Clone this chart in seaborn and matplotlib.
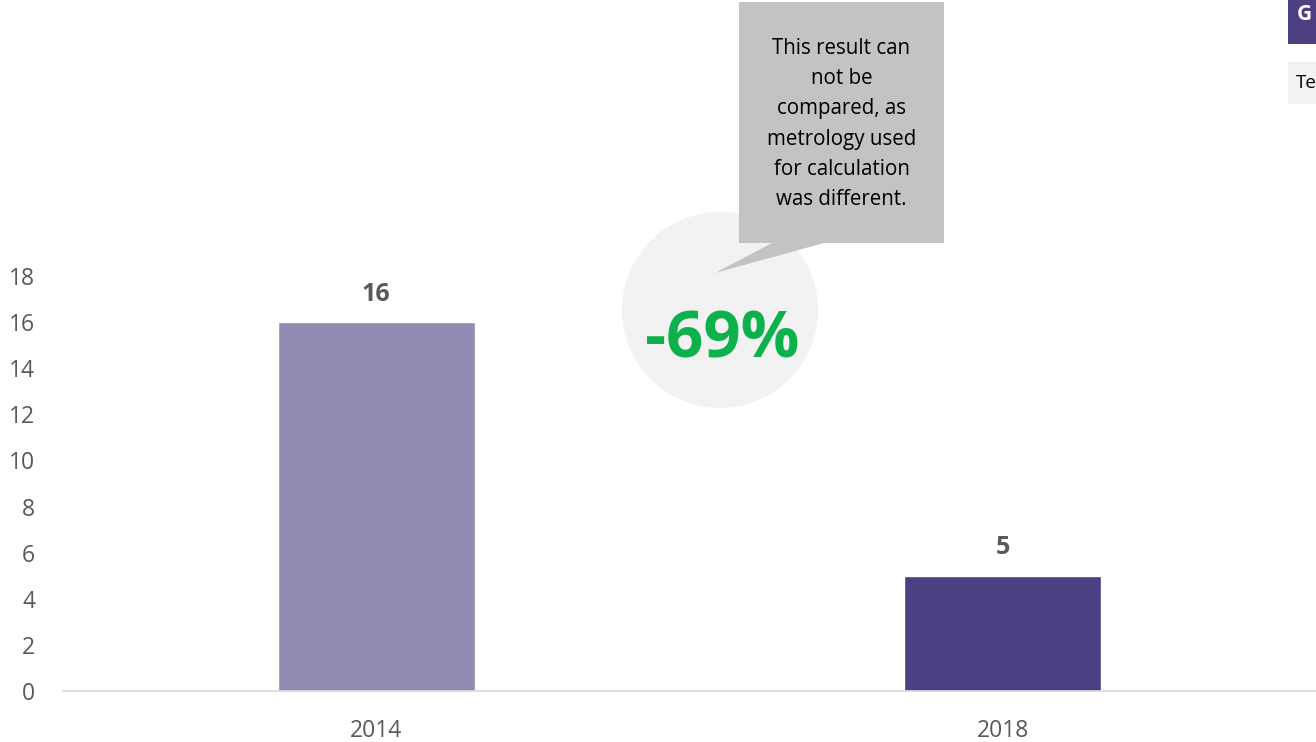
import matplotlib
matplotlib.use("Agg")
import matplotlib.pyplot as plt
from matplotlib.patches import Circle, Rectangle, Polygon
import seaborn as sns
import pandas as pd

# ---- data ----
years = ["2014", "2018"]
values = [16, 5]
bar_colors = ["#948BB5", "#4D3F83"]
change_label = "-69%"
note_text = "This result can\nnot be\ncompared, as\nmetrology used\nfor calculation\nwas different."
yticks = [0, 2, 4, 6, 8, 10, 12, 14, 16, 18]

sns.set_theme(style="white")
plt.rcParams['font.family'] = ['Open Sans', 'DejaVu Sans']

W, H = 13.16, 7.42
fig = plt.figure(figsize=(W, H), dpi=100)
ax = fig.add_axes([63 / 1316, 1 - 691 / 742, 1 - 63 / 1316, (691 - 276) / 742])

df = pd.DataFrame({"year": years, "value": values})
sns.barplot(data=df, x="year", y="value", hue="year", palette=bar_colors,
            width=0.315, legend=False, ax=ax, saturation=1)

ax.set_xlim(-0.5, 1.5)
ax.set_ylim(0, 18)
ax.set_yticks(yticks)
ax.set_xlabel("")
ax.set_ylabel("")
for s in ["left", "right", "top"]:
    ax.spines[s].set_visible(False)
ax.spines["bottom"].set_color("#D9D9D9")
ax.spines["bottom"].set_linewidth(1.2)
ax.tick_params(axis="y", length=0, labelsize=16.5, labelcolor="#595959", pad=20)
ax.tick_params(axis="x", length=0, labelsize=16.5, labelcolor="#595959", pad=20)

for cont in ax.containers:
    ax.bar_label(cont, fmt="%d", padding=11, fontsize=18, fontweight="bold", color="#595959")

# ---- circle + callout (figure inches) ----
tr = fig.dpi_scale_trans
fig.patches.append(Circle((7.20, H - 3.10), 0.98, transform=tr, facecolor="#F2F2F2",
                          edgecolor="none", zorder=0))
fig.patches.append(Rectangle((7.39, H - 2.43), 2.05, 2.41, transform=tr,
                             facecolor="#C4C2C3", edgecolor="none", zorder=1))
fig.patches.append(Polygon([(7.72, H - 2.43), (8.24, H - 2.43), (7.15, H - 2.73)],
                           closed=True, transform=tr, facecolor="#C4C2C3",
                           edgecolor="none", zorder=1))
fig.text(8.415 / W, 1 - 1.24 / H, note_text, ha="center", va="center", fontsize=14.8,
         color="black", linespacing=1.58, zorder=3)
fig.text(7.225 / W, 1 - 3.41 / H, change_label, ha="center", va="center", fontsize=47,
         fontweight="bold", color="#0DB14B", zorder=3)

# ---- cut-off legend boxes at top right ----
fig.patches.append(Rectangle((12.88, H - 0.44), 0.40, 0.46, transform=tr,
                             facecolor="#4E3F82", edgecolor="none", zorder=1))
fig.patches.append(Rectangle((12.88, H - 1.04), 0.40, 0.42, transform=tr,
                             facecolor="#F2F2F2", edgecolor="none", zorder=1))
fig.text(12.97 / W, 1 - 0.14 / H, "G", ha="left", va="center", fontsize=15,
         fontweight="bold", color="white", zorder=3)
fig.text(12.955 / W, 1 - 0.83 / H, "Te", ha="left", va="center", fontsize=13.5,
         color="black", zorder=3)

fig.savefig("out.png", dpi=100)
